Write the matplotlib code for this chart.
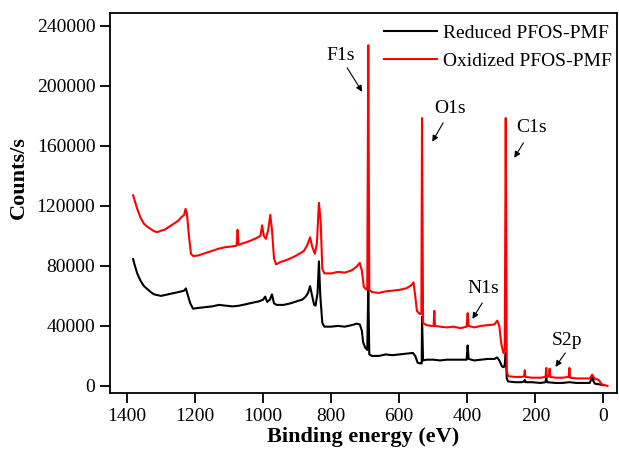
import numpy as np
import matplotlib.pyplot as plt

plt.rcParams['font.family'] = ['Liberation Serif', 'DejaVu Serif']

# survey spectrum, oxidized sample (binding energy eV, counts/s)
ox_energy = [1382, 1378, 1370, 1360, 1350, 1340, 1330, 1320, 1310, 1300, 1290, 1280,
             1270, 1260, 1250, 1240, 1232, 1228, 1224, 1218, 1212, 1205, 1190, 1170,
             1150, 1130, 1110, 1090, 1078, 1075, 1072, 1060, 1040, 1020, 1008, 1003,
             998, 992, 985, 979, 974, 968, 962, 950, 930, 910, 890, 880, 870, 862,
             856, 848, 842, 836, 831, 826, 820, 800, 780, 760, 740, 725, 716, 710,
             704, 698, 694, 691, 688, 680, 660, 640, 620, 600, 580, 565, 558, 553,
             548, 540, 535, 533, 530, 520, 505, 499, 497, 495, 480, 460, 440, 420,
             402, 399, 396, 380, 360, 340, 320, 312, 306, 300, 294, 290, 287, 284,
             280, 260, 240, 233, 231, 229, 210, 185, 170, 168, 166, 160, 158, 156,
             140, 120, 102, 100, 98, 80, 60, 40, 33, 30, 25, 18, 12, 5, -5, -12]
ox_counts = [127000, 124000, 118000, 112000, 108000, 106000, 104500, 103000, 102500,
             103500, 104000, 105500, 107000, 108500, 110000, 112500, 114000, 118000,
             115000, 100000, 88000, 86500, 87000, 88500, 90000, 91500, 92500, 93000,
             93500, 104000, 94000, 95000, 96500, 98500, 100000, 107000, 100000, 98000,
             104000, 114000, 104000, 85000, 81000, 82500, 84000, 86000, 88500, 90000,
             94000, 99000, 93000, 88000, 95000, 122000, 110000, 78000, 75000, 75000,
             76000, 75500, 77000, 79500, 82000, 77000, 66000, 64500, 64000, 227000,
             64000, 62500, 62000, 63000, 63500, 64000, 65000, 67000, 69000, 60000,
             50000, 48000, 48000, 178500, 42000, 40500, 40000, 40000, 50000, 40000,
             39500, 39000, 39500, 38500, 39500, 48500, 40000, 39000, 40000, 40500,
             41000, 43500, 40000, 28000, 22000, 24000, 178500, 10000, 6500, 6000,
             6000, 6500, 10500, 6000, 5500, 5500, 6000, 12000, 6000, 6500, 11500,
             6000, 5500, 5500, 6000, 12000, 5500, 5000, 5000, 5000, 7500, 6500, 4500,
             4500, 3500, 1000, 500, 0]

# survey spectrum, reduced sample
red_energy = [1382, 1378, 1370, 1360, 1350, 1340, 1330, 1320, 1310, 1300, 1290, 1280,
              1270, 1260, 1250, 1240, 1232, 1227, 1222, 1214, 1206, 1190, 1170, 1150,
              1130, 1110, 1090, 1070, 1050, 1030, 1010, 1000, 994, 988, 980, 974, 968,
              960, 940, 920, 900, 885, 875, 868, 862, 856, 850, 846, 840, 836, 832,
              826, 820, 800, 780, 760, 740, 725, 716, 710, 706, 700, 694, 691, 688,
              680, 660, 640, 620, 600, 580, 560, 553, 546, 538, 534, 533, 530, 520,
              500, 480, 460, 440, 420, 402, 399, 396, 380, 360, 340, 320, 312, 306,
              298, 293, 290, 287, 284, 280, 260, 240, 233, 231, 229, 210, 185, 170,
              168, 166, 140, 120, 100, 80, 60, 40, 33, 30, 25, 10, 0]
red_counts = [84500, 81000, 75000, 70000, 66500, 64500, 62500, 61000, 60500, 60000,
              60500, 61000, 61500, 62000, 62500, 63000, 63500, 65000, 61000, 55000,
              51500, 52000, 52500, 53000, 54000, 53500, 53000, 53500, 54500, 55500,
              56500, 57500, 59500, 56000, 57500, 61000, 55000, 54000, 54000, 55000,
              56500, 57500, 59500, 62000, 66500, 60000, 54000, 53500, 62000, 83000,
              60000, 42000, 39500, 39500, 40000, 39500, 40500, 41500, 41000, 37000,
              29000, 25500, 24000, 65000, 21000, 20000, 20000, 21000, 20500, 21000,
              21500, 22000, 20000, 15500, 15000, 15000, 46000, 17000, 17500, 17500,
              17000, 17500, 17500, 17500, 17500, 27000, 18000, 17000, 17500, 18000,
              18000, 19000, 17000, 13000, 12500, 14000, 22000, 5000, 3000, 2500, 2500,
              3000, 4000, 2500, 2500, 2000, 2500, 6000, 2500, 2000, 2000, 2500, 2000,
              2000, 2000, 6000, 3500, 1500, 1000, 500]

# peak labels: (text, text position, arrow tail, arrow head)
peak_names = ['F1s', 'O1s', 'C1s', 'N1s', 'S2p']
label_pos = [(773, 220000), (450, 185000), (212, 172000), (353, 65000), (106, 30500)]
arrow_tail = [(753, 212000), (471, 175300), (235, 162000), (356, 55300), (112, 22000)]
arrow_head = [(709, 196000), (503, 162700), (262, 152000), (385, 44700), (141, 12700)]

fig = plt.figure(figsize=(6.19, 4.51), dpi=100)
ax = fig.add_axes([0.1777, 0.1286, 0.8191, 0.8426])

ax.plot(red_energy, red_counts, color='black', lw=1.5, label='Reduced PFOS-PMF')
ax.plot(ox_energy, ox_counts, color='#ff0000', lw=1.5, label='Oxidized PFOS-PMF')

for name, pos, tail, head in zip(peak_names, label_pos, arrow_tail, arrow_head):
    ax.text(pos[0], pos[1], name, fontsize=14, ha='center', va='center')
    ax.annotate('', xy=head, xytext=tail,
                arrowprops=dict(arrowstyle='-|>', color='black', lw=0.8,
                                mutation_scale=9, shrinkA=0, shrinkB=0))

ax.set_xlim(1450, -40)
ax.set_ylim(-4700, 248500)
ax.set_xticks(np.arange(0, 1401, 200))
ax.set_yticks(np.arange(0, 240001, 40000))
ax.tick_params(direction='out', length=7, width=1.3, labelsize=14,
               top=False, right=False)
for sp in ax.spines.values():
    sp.set_linewidth(1.3)

ax.set_xlabel('Binding energy (eV)', fontsize=16, fontweight='bold', labelpad=2)
ax.set_ylabel('Counts/s', fontsize=16, fontweight='bold')
ax.yaxis.set_label_coords(-0.16, 0.568)

ax.legend(loc='upper right', bbox_to_anchor=(1.012, 1.0), frameon=False,
          fontsize=14, handlelength=2.7, handletextpad=0.3, labelspacing=0.5,
          borderaxespad=0.2)

fig.savefig('out.png', dpi=100)
